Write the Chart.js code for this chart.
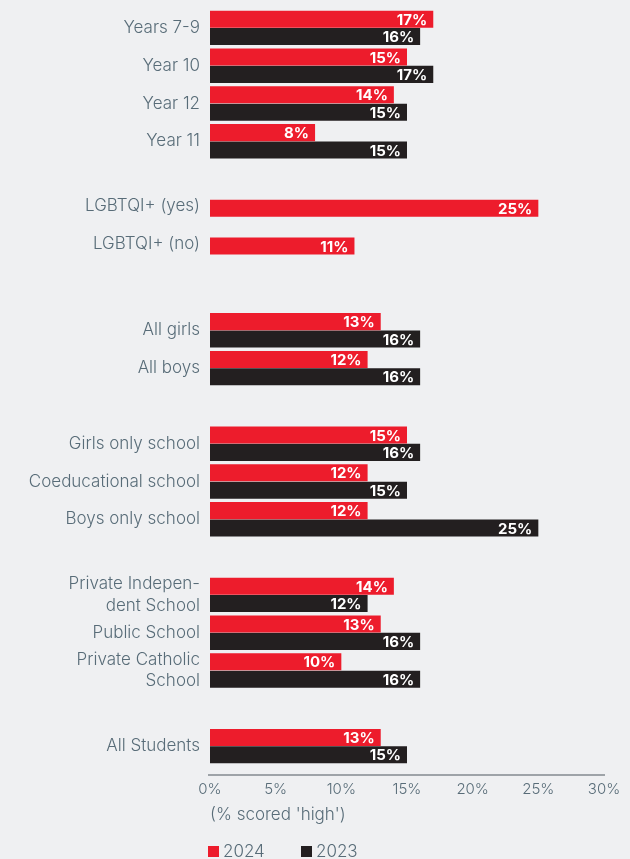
<!DOCTYPE html>
<html lang="en">
<head>
  <meta charset="UTF-8" />
  <title>Share of students scored high, 2024 vs 2023</title>
  <script src="https://cdn.jsdelivr.net/npm/chart.js"></script>
  <style>
    html, body { margin: 0; padding: 0; background: #eff0f2; }
    #chartContainer { width: 630px; height: 859px; }
  </style>
</head>
<body>

  <div id="chartContainer">
    <canvas id="groupChart"></canvas>
  </div>

  <script>
    // empty entries are spacer rows between the groups
    const categories = [
      'Years 7-9', 'Year 10', 'Year 12', 'Year 11', '',
      ['LGBTQI+ (yes)', ''], ['LGBTQI+ (no)', ''], '',
      'All girls', 'All boys', '',
      'Girls only school', 'Coeducational school', 'Boys only school', '',
      ['Private Indepen-', 'dent School'], 'Public School', ['Private Catholic', 'School'], '',
      'All Students'
    ];
    const seriesNames = ['2024', '2023'];
    const values2024 = [17, 15, 14, 8, null, 25, 11, null, 13, 12, null, 15, 12, 12, null, 14, 13, 10, null, 13];
    const values2023 = [16, 17, 15, 15, null, null, null, null, 16, 16, null, 16, 15, 25, null, 12, 16, 16, null, 15];
    const xTicks = [0, 5, 10, 15, 20, 25, 30];

    const RED = '#ed1c2c';
    const BLACK = '#231f20';
    const TEXT = '#586c78';
    const FONT = 'Inter, "Open Sans", sans-serif';

    const background = {
      id: 'background',
      beforeDraw(chart) {
        const c = chart.ctx;
        c.save();
        c.fillStyle = '#eff0f2';
        c.fillRect(0, 0, chart.width, chart.height);
        c.restore();
      }
    };

    // white value text inside the right end of each bar
    const barValues = {
      id: 'barValues',
      afterDatasetsDraw(chart) {
        const c = chart.ctx;
        c.save();
        c.fillStyle = '#ffffff';
        c.font = '700 15px ' + FONT;
        c.textAlign = 'right';
        c.textBaseline = 'middle';
        chart.data.datasets.forEach((ds, i) => {
          chart.getDatasetMeta(i).data.forEach((bar, j) => {
            const v = ds.data[j];
            if (v === null) return;
            c.fillText(v + '%', bar.x - 6, bar.y + 1);
          });
        });
        c.restore();
      }
    };

    // axis line sits a little below the last row, legend under the axis title
    const axisAndLegend = {
      id: 'axisAndLegend',
      afterDraw(chart) {
        const c = chart.ctx;
        const area = chart.chartArea;
        c.save();
        c.strokeStyle = '#9ea3a8';
        c.lineWidth = 2;
        c.beginPath();
        c.moveTo(area.left - 2, area.bottom + 10);
        c.lineTo(area.right + 1, area.bottom + 10);
        c.stroke();

        c.font = '300 17px ' + FONT;
        c.textBaseline = 'middle';
        c.textAlign = 'left';
        let x = area.left - 2;
        const y = 851;
        chart.data.datasets.forEach(ds => {
          c.fillStyle = ds.backgroundColor;
          c.fillRect(x, y - 5, 11, 11);
          c.fillStyle = TEXT;
          c.fillText(ds.label, x + 15, y + 1);
          x += 93;
        });
        c.restore();
      }
    };

    new Chart(document.getElementById('groupChart'), {
      type: 'bar',
      data: {
        labels: categories,
        datasets: [
          { label: seriesNames[0], data: values2024, backgroundColor: RED },
          { label: seriesNames[1], data: values2023, backgroundColor: BLACK }
        ]
      },
      options: {
        indexAxis: 'y',
        responsive: true,
        maintainAspectRatio: false,
        animation: false,
        categoryPercentage: 0.92,
        barPercentage: 0.98,
        layout: { padding: { top: 9, right: 26, bottom: 0, left: 0 } },
        plugins: {
          legend: { display: false },
          tooltip: { enabled: false }
        },
        scales: {
          x: {
            min: 0,
            max: 30,
            afterFit(scale) {
              scale.height = 94;
              scale.paddingLeft = 0;
              scale.paddingRight = 0;
            },
            afterBuildTicks(scale) { scale.ticks = xTicks.map(v => ({ value: v })); },
            grid: { display: false, drawTicks: false },
            border: { display: false },
            ticks: {
              padding: 15,
              color: TEXT,
              font: { family: FONT, size: 15, weight: '300' },
              callback: v => v + '%'
            },
            title: {
              display: true,
              text: "(% scored 'high')",
              align: 'start',
              color: TEXT,
              font: { family: FONT, size: 17, weight: '300' },
              padding: { top: 0, bottom: 34 }
            }
          },
          y: {
            afterFit(scale) {
              scale.width = 210;
              scale.paddingTop = 0;
              scale.paddingBottom = 0;
            },
            grid: { display: false, drawTicks: false },
            border: { display: false },
            ticks: {
              padding: 10,
              autoSkip: false,
              color: TEXT,
              font: { family: FONT, size: 17, weight: '300', lineHeight: 1.25 }
            }
          }
        }
      },
      plugins: [background, barValues, axisAndLegend]
    });
  </script>

</body>
</html>
